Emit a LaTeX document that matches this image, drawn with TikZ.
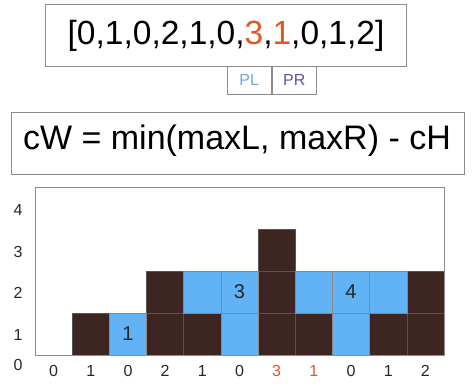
\documentclass[tikz,border=0pt]{standalone}
\usepackage{fontspec}
\setmainfont{Liberation Sans}
\definecolor{brick}{HTML}{3D2621}
\definecolor{water}{HTML}{62B2F6}
\definecolor{hl}{HTML}{E2561F}
\definecolor{plc}{HTML}{6FA8DC}
\definecolor{prc}{HTML}{674EA7}
\definecolor{frame}{HTML}{8C8C8C}
\definecolor{gridc}{HTML}{555555}
\tikzset{
  boxed/.style={draw=frame, line width=0.9pt, inner sep=0pt},
  brickcell/.style={fill=brick, draw=gridc, line width=0.6pt},
  watercell/.style={fill=water, draw=gridc!70, line width=0.6pt},
  axlab/.style={font=\fontsize{16}{18}\selectfont, text=black!85},
  cellnum/.style={font=\fontsize{20}{22}\selectfont, text=black!85}
}
\begin{document}
\begin{tikzpicture}[x=1pt,y=-1pt]
\useasboundingbox (0,0) rectangle (474,389);
% top array box
\draw[boxed] (45.7,4.3) rectangle (406.7,66.3);
\node[font=\fontsize{33.5}{40}\selectfont] (arr) at (226,35.5) {[0,1,0,2,1,0,\textcolor{hl}{3},\textcolor{hl}{1},0,1,2]};
% PL PR
\node[boxed, minimum width=44pt, minimum height=27.3pt, font=\fontsize{16}{18}\selectfont, text=plc, anchor=north west] (pl) at (226.7,66.3) {PL};
\node[boxed, minimum width=44.3pt, minimum height=27.3pt, font=\fontsize{16}{18}\selectfont, text=prc, anchor=north west] (pr) at (pl.north east) {PR};
% formula
\draw[boxed] (11.7,112.7) rectangle (464.3,174.3);
\node[font=\fontsize{34}{40}\selectfont] (formula) at (237,141) {cW = min(maxL, maxR) - cH};
% chart
\begin{scope}[shift={(35,355)}, x=37.1818pt, y=42pt]
  \foreach \i/\h in {1/1,3/2,4/1,6/3,7/1,9/1,10/2}{
    \foreach \j in {1,...,\h}{
      \draw[brickcell] (\i,\j-1) rectangle (\i+1,\j);
    }
  }
  \foreach \i/\a/\b in {2/0/1,4/1/2,5/0/2,7/1/2,8/0/2,9/1/2}{
    \foreach \j in {\a,...,\b}{
      \ifnum\j<\b
      \draw[watercell] (\i,\j) rectangle (\i+1,\j+1);
      \fi
    }
  }
  \draw[draw=frame, line width=0.9pt] (0,0) rectangle (11,4);
  \node[cellnum] (n1) at (2.5,0.5) {1};
  \node[cellnum] (n3) at (5.5,1.5) {3};
  \node[cellnum] (n4) at (8.5,1.5) {4};
  \foreach \v [count=\k from 0] in {0,1,0,2,1,0,{\textcolor{hl}{3}},{\textcolor{hl}{1}},0,1,2}{
    \node[axlab] (x\k) at (\k+0.5,-0.37) {\v};
  }
\end{scope}
\foreach \v/\y in {4/210,3/251.7,2/293.3,1/335,0/365}{
  \node[axlab] (y\v) at (18,\y) {\v};
}
\end{tikzpicture}
\end{document}
